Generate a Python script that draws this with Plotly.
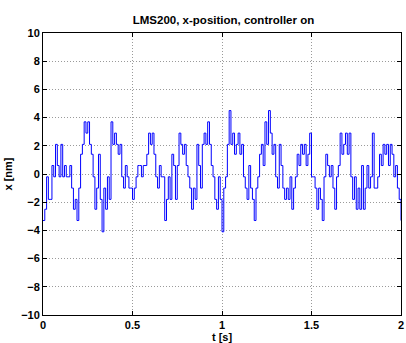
import plotly.graph_objects as go

# time samples [s]
t_s = [round(i * 0.01, 2) for i in range(201)]

x_nm = [
    -3.3, -2.5, -0.2, -1.8, -1.8, 0.6, -0.2, 2.1, 0.6, -0.2,
    2.1, -0.2, 0.6, -0.2, -0.2, 0.6, -1.0, -2.5, -1.8, -3.3,
    -1.0, 1.4, 2.1, 3.7, 2.9, 3.7, 2.1, 1.4, -0.2, -2.5,
    -1.0, 1.4, -1.8, -4.1, -1.0, -2.5, -0.2, -1.8, 3.7, 2.1,
    2.9, 2.1, 1.4, 2.1, -0.2, -1.0, 0.6, -0.2, -1.0, -1.0,
    -1.8, -1.0, -0.2, 0.6, 0.6, -0.2, 0.6, 0.6, 1.4, 2.9,
    2.1, 2.9, 1.4, -0.2, -1.0, 0.6, -0.2, -0.2, -3.3, -1.8,
    -0.2, -1.8, 1.4, 0.6, -1.8, 0.6, 2.9, 2.1, 1.4, 2.1,
    0.6, -0.2, -1.0, -2.5, -1.0, -1.8, 2.1, 0.6, -1.0, 2.1,
    2.9, 2.1, 3.7, 2.1, 0.6, -0.2, -1.8, -2.5, -0.2, -1.8,
    -4.1, -1.0, -0.2, 2.1, 4.5, 2.1, 2.9, 1.4, 2.1, 2.9,
    1.4, 2.1, -0.2, -1.0, -1.8, 0.6, -1.0, -1.8, -3.3, -1.0,
    -0.2, 1.4, 2.1, 0.6, 3.7, 2.1, 4.5, 2.9, 1.4, 2.1,
    -0.2, -1.0, 2.1, 0.6, -1.0, -1.8, -1.0, -1.8, -0.2, -2.5,
    -1.0, -0.2, 1.4, 0.6, 2.1, 1.4, 2.1, 0.6, 1.4, 2.9,
    -0.2, -0.2, -1.0, -2.5, -1.0, -1.8, -3.3, -0.2, 1.4, 0.6,
    -0.2, 0.6, -1.0, -2.5, -0.2, 0.6, 2.9, 1.4, 2.1, 2.9,
    1.4, 2.9, -0.2, -1.8, -0.2, -2.5, -1.0, -2.5, 0.6, -2.5,
    -1.0, 0.6, -1.0, -0.2, 2.9, -1.0, -1.0, -0.2, 1.4, 0.6,
    2.1, 1.4, 2.1, 0.6, 2.1, 1.4, -0.2, 0.6, -1.0, -1.8,
    -3.3,
]

y_ticks = [-10, -8, -6, -4, -2, 0, 2, 4, 6, 8, 10]
x_ticks = [0, 0.5, 1, 1.5, 2]
x_tick_text = ["0", "0.5", "1", "1.5", "2"]

font_family = "Liberation Sans, Arial, sans-serif"

fig = go.Figure()
fig.add_trace(go.Scatter(
    x=t_s, y=x_nm, mode="lines",
    line=dict(color="#0000ff", width=1.0, shape="hv"),
    showlegend=False, hoverinfo="skip",
))

axis_common = dict(
    showline=True, linecolor="black", linewidth=1, mirror="ticks",
    ticks="inside", ticklen=4, tickcolor="black",
    showgrid=True, gridcolor="#9a9a9a", griddash="1px,2px", gridwidth=1,
    zeroline=False, ticklabeloverflow="allow",
    tickfont=dict(family=font_family, size=11, color="black", weight="bold"),
)

fig.update_layout(
    width=406, height=343,
    margin=dict(l=43, r=2, t=33, b=28),
    paper_bgcolor="white", plot_bgcolor="white",
    title=dict(
        text="LMS200, x-position, controller on",
        x=(43 + 404) / 2 / 406, xanchor="center",
        y=1 - 20 / 343, yanchor="middle",
        font=dict(family=font_family, size=11.5, color="black", weight="bold"),
    ),
    xaxis=dict(
        range=[0, 2], tickvals=x_ticks, ticktext=x_tick_text,
        title=dict(text="t [s]", standoff=2,
                   font=dict(family=font_family, size=11, color="black", weight="bold")),
        **axis_common,
    ),
    yaxis=dict(
        range=[-10, 10], tickvals=y_ticks,
        title=dict(text="x [nm]", standoff=6,
                   font=dict(family=font_family, size=11, color="black", weight="bold")),
        **axis_common,
    ),
)

fig.write_html("out.html", config={"displayModeBar": False, "staticPlot": True})

# remove the default page margin so the figure sits at the window's corner
with open("out.html", "r", encoding="utf-8") as f:
    html = f.read()
html = html.replace("<head>", "<head><style>html,body{margin:0;padding:0;overflow:hidden;}</style>", 1)
with open("out.html", "w", encoding="utf-8") as f:
    f.write(html)
